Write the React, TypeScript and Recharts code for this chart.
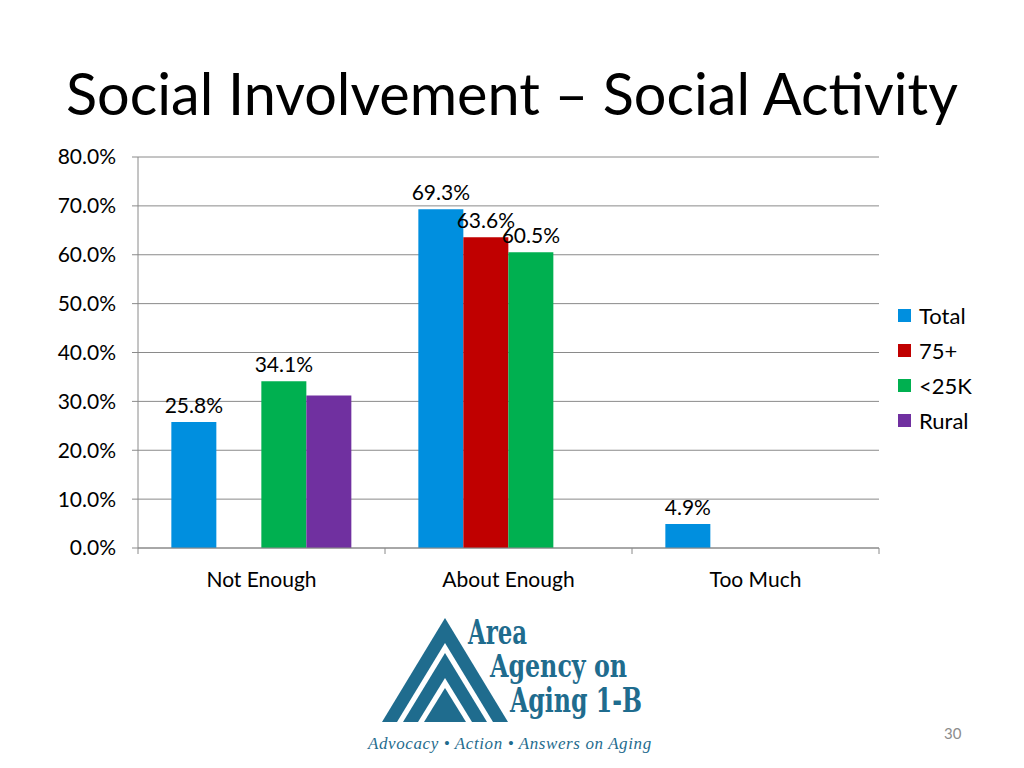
import { BarChart, Bar, XAxis, YAxis, CartesianGrid, LabelList } from 'recharts';

const categories = ['Not Enough', 'About Enough', 'Too Much'];
const total = [25.8, 69.3, 4.9];
const over75 = [null, 63.6, null];
const under25k = [34.1, 60.5, null];
const rural = [31.2, null, null];
const yTicks = [0, 10, 20, 30, 40, 50, 60, 70, 80];

const series = [
  { key: 'total', name: 'Total', color: '#008FDF', labels: true },
  { key: 'over75', name: '75+', color: '#C00000', labels: true },
  { key: 'under25k', name: '<25K', color: '#00B050', labels: true },
  { key: 'rural', name: 'Rural', color: '#7030A0', labels: false },
];

const data = categories.map((c, i) => ({
  category: c,
  total: total[i],
  over75: over75[i],
  under25k: under25k[i],
  rural: rural[i],
}));

const FONT = 'Lato, "Open Sans", sans-serif';
const GRID = '#8A8A8A';
const LOGO = '#1F6C8E';

// chart geometry
const CHART_W = 1024;
const CHART_H = 600;
const MARGIN = { top: 157, right: 145, left: 48, bottom: 12 };
const BAND = (CHART_W - 138 - MARGIN.right) / categories.length;

const CategoryTick = (props: any) => {
  const { x, y, payload, index } = props;
  return (
    <g>
      <line x1={x - BAND / 2} x2={x - BAND / 2} y1={y - 8} y2={y - 2} stroke={GRID} />
      {index === categories.length - 1 && (
        <line x1={x + BAND / 2} x2={x + BAND / 2} y1={y - 8} y2={y - 2} stroke={GRID} />
      )}
      <text x={x} y={y + 31} textAnchor="middle" fontSize={21} fill="#000" fontFamily={FONT}>
        {payload.value}
      </text>
    </g>
  );
};

const ValueLabel = (props: any) => {
  const { x, y, width, value } = props;
  if (value === null || value === undefined) return null;
  return (
    <text x={x + width / 2} y={y - 9} textAnchor="middle" fontSize={21} fill="#000" fontFamily={FONT}>
      {`${Number(value).toFixed(1)}%`}
    </text>
  );
};

function Logo() {
  const serif = '"DejaVu Serif Condensed", "DejaVu Serif", "Liberation Serif", serif';
  return (
    <svg width={330} height={168} style={{ position: 'absolute', left: 350, top: 600 }}>
      <g transform="translate(-350,-600)">
        <polygon points="445,618 382,722 508,722" fill={LOGO} />
        <polygon points="445,643 397,722 493,722" fill="#fff" />
        <polygon points="445,653 403,722 487,722" fill={LOGO} />
        <polygon points="445,678 418,722 472,722" fill="#fff" />
        <polygon points="445,688 424,722 466,722" fill={LOGO} />
        <g fontFamily={serif} fontWeight="bold" fill={LOGO}>
          <text x={468} y={644} fontSize={34} textLength={59} lengthAdjust="spacingAndGlyphs">Area</text>
          <text x={490} y={677} fontSize={31} textLength={137} lengthAdjust="spacingAndGlyphs">Agency on</text>
          <text x={510} y={712} fontSize={33} textLength={132} lengthAdjust="spacingAndGlyphs">Aging 1-B</text>
        </g>
        <text x={368} y={749} fontSize={17} fontStyle="italic" fill={LOGO}
          fontFamily='"Liberation Serif", serif' letterSpacing={0.6}>
          Advocacy • Action • Answers on Aging
        </text>
      </g>
    </svg>
  );
}

export default function App() {
  return (
    <div style={{ position: 'fixed', left: 0, top: 0, width: 1024, height: 768, background: '#fff', overflow: 'hidden', fontFamily: FONT }}>
      <div style={{ position: 'absolute', left: 66, top: 58, fontSize: 57.6, lineHeight: '70px', color: '#000', whiteSpace: 'nowrap' }}>
        Social Involvement – Social Activity
      </div>
      <div style={{ position: 'absolute', left: 0, top: 0 }}>
        <BarChart width={CHART_W} height={CHART_H} data={data} margin={MARGIN} barCategoryGap="13.5%" barGap={0}>
          <CartesianGrid vertical={false} stroke={GRID} />
          <XAxis
            dataKey="category"
            axisLine={{ stroke: GRID }}
            tickLine={false}
            tick={<CategoryTick />}
            height={40}
            interval={0}
          />
          <YAxis
            domain={[0, 80]}
            ticks={yTicks}
            width={90}
            axisLine={{ stroke: GRID }}
            tickLine={{ stroke: GRID }}
            tickSize={6}
            tickMargin={16}
            tickFormatter={(v: number) => `${v.toFixed(1)}%`}
            tick={{ fill: '#000', fontSize: 21, fontFamily: FONT }}
          />
          {series.map((s) => (
            <Bar key={s.key} dataKey={s.key} name={s.name} fill={s.color} isAnimationActive={false}>
              {s.labels && <LabelList dataKey={s.key} content={<ValueLabel />} />}
            </Bar>
          ))}
        </BarChart>
      </div>
      <div style={{ position: 'absolute', left: 898, top: 298 }}>
        {series.map((s) => (
          <div key={s.key} style={{ display: 'flex', alignItems: 'center', height: 35, fontSize: 22, color: '#000' }}>
            <span style={{ display: 'inline-block', width: 13, height: 13, background: s.color, marginRight: 8 }} />
            {s.name}
          </div>
        ))}
      </div>
      <Logo />
      <div style={{ position: 'absolute', left: 944, top: 724, fontSize: 15, color: '#8C8C8C' }}>30</div>
    </div>
  );
}
